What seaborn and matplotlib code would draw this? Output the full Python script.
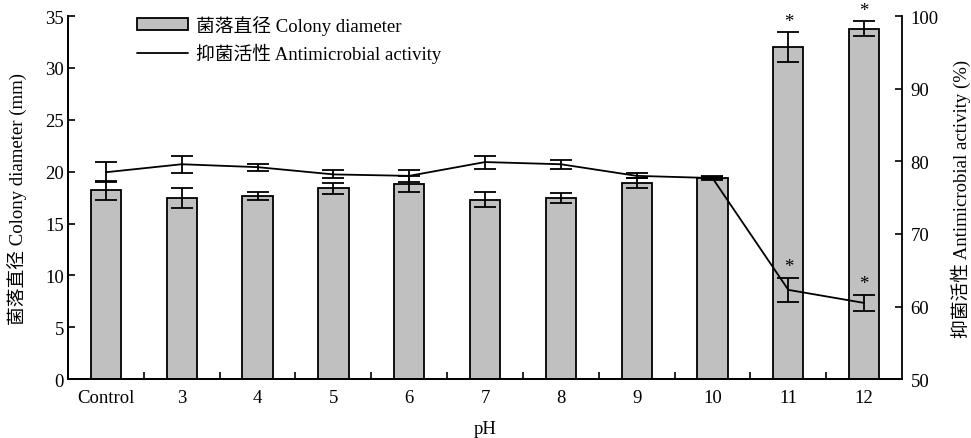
import numpy as np
import pandas as pd
import matplotlib
matplotlib.use('Agg')
import matplotlib.pyplot as plt
import seaborn as sns
from matplotlib.patches import Patch
from matplotlib.lines import Line2D
from matplotlib.ticker import FixedLocator

# values
categories = ['Control', '3', '4', '5', '6', '7', '8', '9', '10', '11', '12']
diameter = [18.2, 17.5, 17.65, 18.4, 18.8, 17.3, 17.45, 18.9, 19.4, 32.0, 33.8]
diameter_err = [0.95, 0.95, 0.35, 0.55, 0.8, 0.7, 0.5, 0.45, 0.2, 1.45, 0.75]
activity = [78.5, 79.6, 79.2, 78.2, 78.0, 79.9, 79.6, 78.0, 77.7, 62.3, 60.5]
activity_err = [1.4, 1.15, 0.5, 0.55, 0.8, 0.9, 0.6, 0.35, 0.2, 1.7, 1.1]
bar_stars = ['', '', '', '', '', '', '', '', '', '*', '*']
line_stars = ['', '', '', '', '', '', '', '', '', '*', '*']

df = pd.DataFrame({'pH': categories, 'diameter': diameter, 'activity': activity})
pos = np.arange(len(categories))

FS = 13.5
sns.set_theme(style='ticks', rc={'font.size': FS, 'axes.labelsize': FS,
                                 'xtick.labelsize': FS, 'ytick.labelsize': FS,
                                 'legend.fontsize': FS})
plt.rcParams['font.family'] = ['Liberation Serif', 'Noto Sans CJK SC']
for key in ('text.color', 'axes.labelcolor', 'xtick.color', 'ytick.color', 'axes.edgecolor'):
    plt.rcParams[key] = 'black'

fig, ax = plt.subplots(figsize=(9.71, 4.39), dpi=100)
fig.subplots_adjust(left=0.070, right=0.929, top=0.961, bottom=0.134)

sns.barplot(data=df, x='pH', y='diameter', ax=ax, color='#c0c0c0', width=0.4,
            edgecolor='black', linewidth=1.3, saturation=1, errorbar=None)
ax.errorbar(pos, diameter, yerr=diameter_err, fmt='none', ecolor='black',
            elinewidth=1.3, capsize=8, capthick=1.3)

ax2 = ax.twinx()
sns.lineplot(x=pos, y=activity, ax=ax2, color='black', linewidth=1.3, sort=False)
ax2.errorbar(pos, activity, yerr=activity_err, fmt='none', ecolor='black',
             elinewidth=1.3, capsize=8, capthick=1.3)

# significance stars above the error bars
for i in pos:
    if bar_stars[i]:
        ax.annotate(bar_stars[i], (i, diameter[i] + diameter_err[i]), xytext=(0, 1.5),
                    textcoords='offset points', ha='center', va='bottom', fontsize=FS)
    if line_stars[i]:
        ax2.annotate(line_stars[i], (i, activity[i] + activity_err[i]), xytext=(0, 2),
                     textcoords='offset points', ha='center', va='bottom', fontsize=FS)

ax.set_xlim(-0.5, len(categories) - 0.5)
ax.set_ylim(0, 35)
ax.set_yticks(np.arange(0, 36, 5))
ax2.set_ylim(50, 100)
ax2.set_yticks(np.arange(50, 101, 10))

ax.set_xticks(pos)
ax.set_xticklabels(categories)
ax.xaxis.set_minor_locator(FixedLocator(pos[:-1] + 0.5))
ax.tick_params(axis='x', which='major', length=0, pad=7)
ax.tick_params(axis='x', which='minor', direction='in', length=5, width=1.2)
ax.tick_params(axis='y', direction='in', length=5, width=1.2, pad=3)
ax2.tick_params(axis='y', direction='in', length=5, width=1.2, pad=6)

ax.set_xlabel('pH', labelpad=10)
ax.set_ylabel('菌落直径 Colony diameter (mm)', labelpad=12)
ax2.set_ylabel('抑菌活性 Antimicrobial activity (%)', labelpad=9)

for a in (ax, ax2):
    a.spines['top'].set_visible(False)
    for s in ('left', 'right', 'bottom'):
        a.spines[s].set_linewidth(1.3)
ax.spines['right'].set_visible(False)

handles = [Patch(facecolor='#c0c0c0', edgecolor='black', linewidth=1.3),
           Line2D([0], [0], color='black', linewidth=1.3)]
labels = ['菌落直径 Colony diameter', '抑菌活性 Antimicrobial activity']
ax2.legend(handles, labels, loc='upper left', bbox_to_anchor=(0.074, 1.025),
           frameon=False, handlelength=2.7, handleheight=0.55, labelspacing=0.45,
           borderaxespad=0, handletextpad=0.45)

fig.savefig('out.png', dpi=100)
